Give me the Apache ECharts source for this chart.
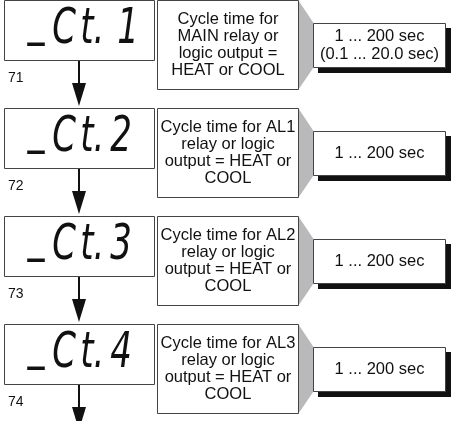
<!DOCTYPE html>
<html><head><meta charset="utf-8">
<script src="https://cdn.jsdelivr.net/npm/echarts@6/dist/echarts.min.js"></script>
<style>html,body{margin:0;padding:0;background:#fff}#c{width:453px;height:421px}</style>
</head><body><div id="c"></div>
<script>
const displayTexts = ['_Ct.1', '_Ct.2', '_Ct.3', '_Ct.4'];
const stepNumbers = ['71', '72', '73', '74'];
const descriptions = [
  'Cycle time for\nMAIN relay or\nlogic output =\nHEAT or COOL',
  'Cycle time for AL1\nrelay or logic\noutput = HEAT or\nCOOL',
  'Cycle time for AL2\nrelay or logic\noutput = HEAT or\nCOOL',
  'Cycle time for AL3\nrelay or logic\noutput = HEAT or\nCOOL'
];
const ranges = ['1 ... 200 sec\n(0.1 ... 20.0 sec)', '1 ... 200 sec', '1 ... 200 sec', '1 ... 200 sec'];

const chart = echarts.init(document.getElementById('c'), null, {renderer: 'canvas'});
const PITCH = 108;
const FONT = '"Liberation Sans", Arial, sans-serif';
// layout of display glyph cells (x centre) by character position
const CELL_X = [36, 64, 87, 99, 121];
const els = [];
displayTexts.forEach((t, i) => {
  const g = PITCH * i;
  // display box
  els.push({type: 'rect', shape: {x: 4.5, y: g + 0.5, width: 150, height: 60},
    style: {fill: '#fff', stroke: '#444', lineWidth: 1}});
  t.split('').forEach((ch, k) => {
    let cx = CELL_X[k];
    if (k === 4 && ch === '1') cx += 7;
    const cy = g + 30 + (ch === '_' ? -9 : 0);
    els.push({type: 'text', x: cx, y: cy, scaleX: 0.68,
      style: {text: ch, font: 'italic 50px "DejaVu Sans"', fill: '#111', align: 'center', verticalAlign: 'middle'}});
  });
  // step number
  els.push({type: 'text', x: 8, y: g + 78,
    style: {text: stepNumbers[i], font: '14px ' + FONT, fill: '#111', align: 'left', verticalAlign: 'middle'}});
  // arrow
  els.push({type: 'line', shape: {x1: 79, y1: g + 61, x2: 79, y2: g + 90},
    style: {stroke: '#111', lineWidth: 2}});
  els.push({type: 'polygon', shape: {points: [[72, g + 83], [86, g + 83], [79, g + 106]]},
    style: {fill: '#111'}});
  // grey connector
  els.push({type: 'polygon', shape: {points: [[298.5, g + 0.5], [313.5, g + 23], [313.5, g + 67.5], [298.5, g + 89.5]]},
    style: {fill: '#b9b9bc'}});
  // description box
  els.push({type: 'rect', shape: {x: 157.5, y: g + 0.5, width: 141, height: 89},
    style: {fill: '#fff', stroke: '#444', lineWidth: 1}});
  els.push({type: 'text', x: 228, y: g + 45,
    style: {text: descriptions[i], font: '16.5px ' + FONT, lineHeight: 17, fill: '#111', align: 'center', verticalAlign: 'middle'}});
  // value box shadow
  els.push({type: 'polygon', shape: {points: [[318, g + 28], [451, g + 28], [451, g + 73], [318, g + 73]]},
    style: {fill: '#111'}});
  // value box
  els.push({type: 'rect', shape: {x: 313.5, y: g + 23.5, width: 132, height: 44},
    style: {fill: '#fff', stroke: '#444', lineWidth: 1}});
  els.push({type: 'text', x: 379.5, y: g + 45.5,
    style: {text: ranges[i], font: '16.5px ' + FONT, lineHeight: 18, fill: '#111', align: 'center', verticalAlign: 'middle'}});
});
chart.setOption({animation: false, graphic: {elements: els}});
</script></body></html>
